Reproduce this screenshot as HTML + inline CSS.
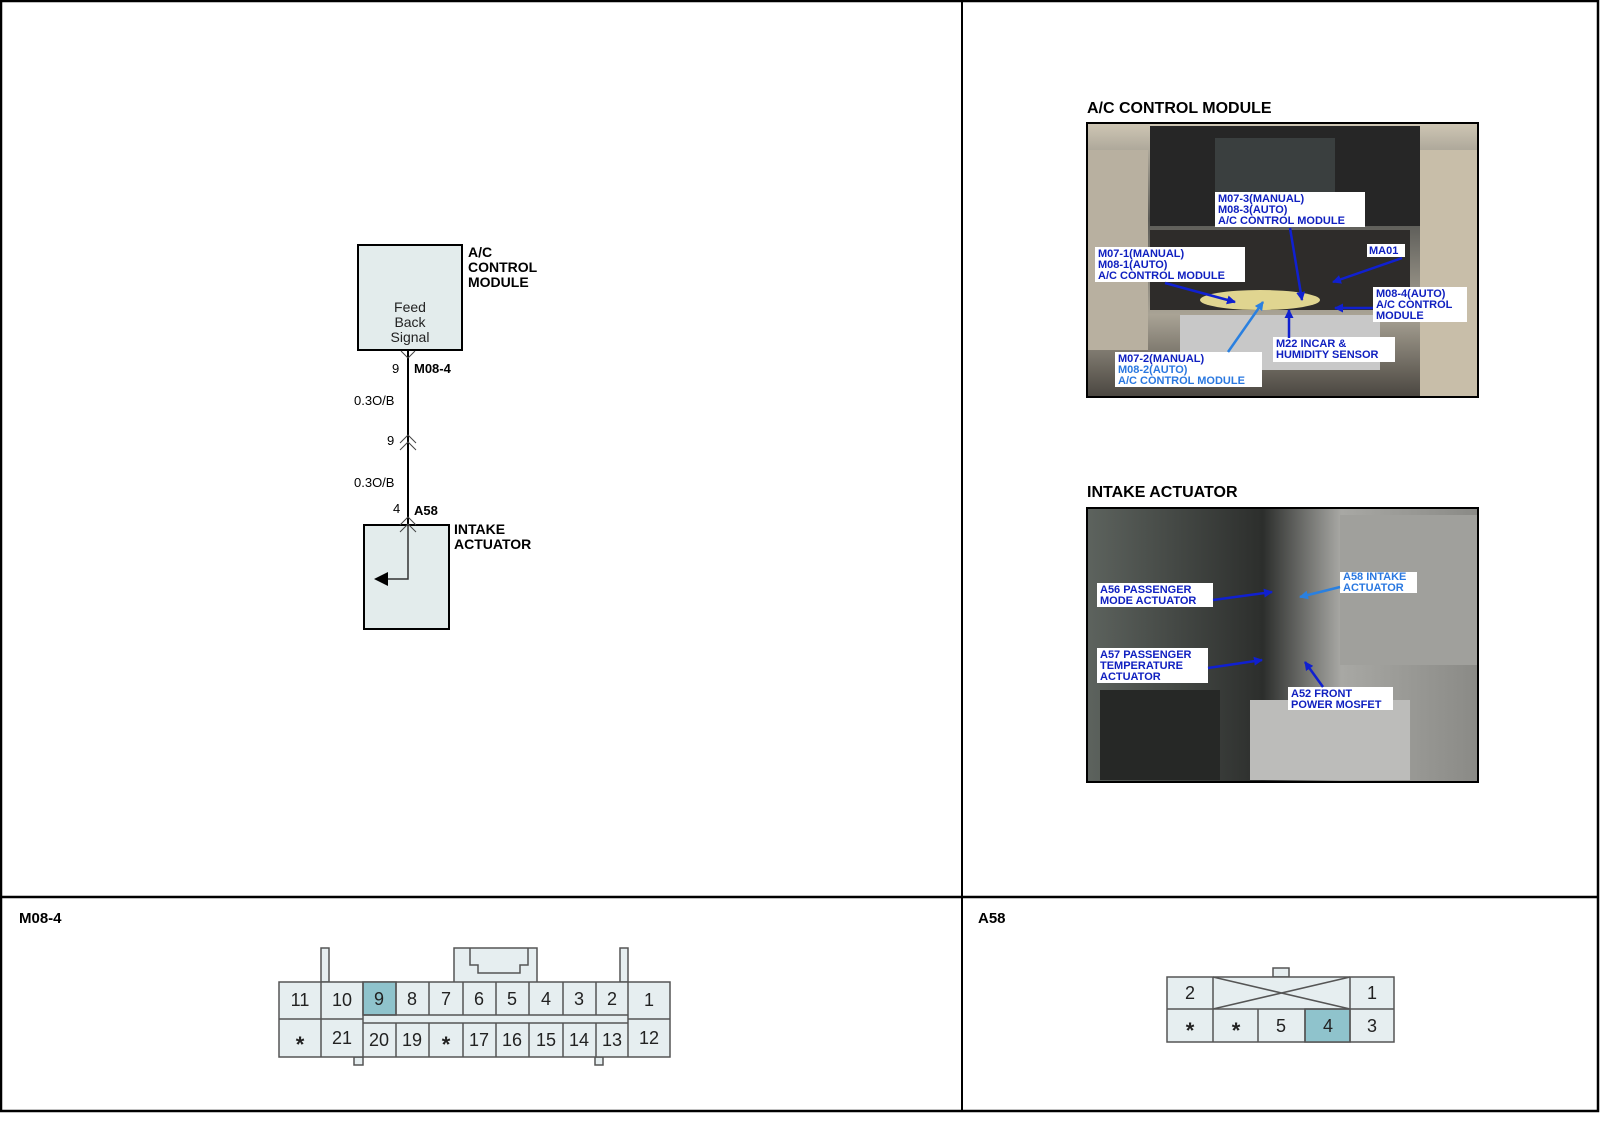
<!DOCTYPE html>
<html><head><meta charset="utf-8"><style>
html,body{margin:0;padding:0;background:#fff;}
svg{display:block;font-family:"Liberation Sans",Arial,sans-serif;}
.b{font-weight:bold;}
</style></head><body>
<svg width="1600" height="1143" viewBox="0 0 1600 1143" xmlns="http://www.w3.org/2000/svg">
<defs>
<marker id="ah" markerWidth="9" markerHeight="9" refX="8" refY="4.5" orient="auto" markerUnits="userSpaceOnUse"><path d="M0,0 L9,4.5 L0,9 z" fill="#1020d0"/></marker>
<marker id="ah2" markerWidth="9" markerHeight="9" refX="8" refY="4.5" orient="auto" markerUnits="userSpaceOnUse"><path d="M0,0 L9,4.5 L0,9 z" fill="#2a80e0"/></marker>
<linearGradient id="g1" x1="0" y1="0" x2="0" y2="1"><stop offset="0" stop-color="#cfc7b5"/><stop offset="0.35" stop-color="#5a5a56"/><stop offset="0.7" stop-color="#a9a395"/><stop offset="1" stop-color="#4a4640"/></linearGradient>
<linearGradient id="g2" x1="0" y1="0" x2="1" y2="0"><stop offset="0" stop-color="#5d635e"/><stop offset="0.45" stop-color="#2c2e2c"/><stop offset="0.65" stop-color="#a8a8a4"/><stop offset="1" stop-color="#8a8a86"/></linearGradient>
</defs>
<rect x="1" y="1" width="1597" height="1110" fill="none" stroke="#000" stroke-width="2.5"/>
<line x1="962" y1="1" x2="962" y2="1111" stroke="#000" stroke-width="2"/>
<line x1="1" y1="897" x2="1598" y2="897" stroke="#000" stroke-width="2.5"/>

<rect x="358" y="245" width="104" height="105" fill="#e3ecec" stroke="#000" stroke-width="2"/>
<g class="b" font-size="14"><text x="468" y="257">A/C</text><text x="468" y="272">CONTROL</text><text x="468" y="287">MODULE</text></g>
<g font-size="14" text-anchor="middle" fill="#222"><text x="410" y="312">Feed</text><text x="410" y="327">Back</text><text x="410" y="342">Signal</text></g>
<line x1="408" y1="350" x2="408" y2="525" stroke="#000" stroke-width="2"/>
<path d="M401,351 L408,358 L415,351" fill="none" stroke="#444" stroke-width="1"/>
<text x="392" y="373" font-size="13">9</text><text x="414" y="373" font-size="13" class="b">M08-4</text>
<text x="354" y="405" font-size="13">0.3O/B</text>
<path d="M400,443 L408,435 L416,443 M400,450 L408,442 L416,450" fill="none" stroke="#444" stroke-width="1"/>
<text x="387" y="445" font-size="13">9</text>
<text x="354" y="487" font-size="13">0.3O/B</text>
<text x="393" y="513" font-size="13">4</text><text x="414" y="515" font-size="13" class="b">A58</text>
<rect x="364" y="525" width="85" height="104" fill="#e3ecec" stroke="#000" stroke-width="2"/>
<path d="M400,525 L408,517 L416,525 M400,532 L408,524 L416,532" fill="none" stroke="#444" stroke-width="1"/>
<path d="M408,525 L408,579 L386,579" fill="none" stroke="#333" stroke-width="1.5"/>
<path d="M374,579 L388,572 L388,586 z" fill="#000"/>
<g class="b" font-size="14"><text x="454" y="534">INTAKE</text><text x="454" y="549">ACTUATOR</text></g>

<text x="1087" y="113" font-size="16" class="b">A/C CONTROL MODULE</text>
<rect x="1087" y="123" width="391" height="274" fill="url(#g1)" stroke="#000" stroke-width="2"/>
<rect x="1150" y="126" width="270" height="100" fill="#262626"/>
<rect x="1215" y="138" width="120" height="60" fill="#3a3f3f"/>
<rect x="1150" y="230" width="260" height="80" fill="#2e2c2a"/>
<rect x="1180" y="315" width="200" height="55" fill="#c8c8c8"/>
<rect x="1088" y="150" width="60" height="200" fill="#b8b0a0"/>
<rect x="1420" y="150" width="57" height="246" fill="#c8bea9"/>
<ellipse cx="1260" cy="300" rx="60" ry="10" fill="#e0d590"/>
<g font-size="11" class="b" fill="#1020c0">
<rect x="1215" y="192" width="150" height="35" fill="#fff"/>
<text x="1218" y="202">M07-3(MANUAL)</text><text x="1218" y="213">M08-3(AUTO)</text><text x="1218" y="224">A/C CONTROL MODULE</text>
<rect x="1095" y="247" width="150" height="35" fill="#fff"/>
<text x="1098" y="257">M07-1(MANUAL)</text><text x="1098" y="268">M08-1(AUTO)</text><text x="1098" y="279">A/C CONTROL MODULE</text>
<rect x="1367" y="244" width="38" height="13" fill="#fff"/><text x="1369" y="254">MA01</text>
<rect x="1373" y="287" width="94" height="35" fill="#fff"/>
<text x="1376" y="297">M08-4(AUTO)</text><text x="1376" y="308">A/C CONTROL</text><text x="1376" y="319">MODULE</text>
<rect x="1273" y="337" width="122" height="25" fill="#fff"/>
<text x="1276" y="347">M22 INCAR &amp;</text><text x="1276" y="358">HUMIDITY SENSOR</text>
<rect x="1115" y="352" width="147" height="35" fill="#fff"/>
<text x="1118" y="362">M07-2(MANUAL)</text><text x="1118" y="373" fill="#2a78e0">M08-2(AUTO)</text><text x="1118" y="384" fill="#2a78e0">A/C CONTROL MODULE</text>
</g>
<g stroke="#1020d0" stroke-width="2.5" fill="none">
<line x1="1290" y1="228" x2="1302" y2="300" marker-end="url(#ah)"/>
<line x1="1165" y1="283" x2="1235" y2="302" marker-end="url(#ah)"/>
<line x1="1402" y1="258" x2="1333" y2="282" marker-end="url(#ah)"/>
<line x1="1373" y1="308" x2="1335" y2="308" marker-end="url(#ah)"/>
<line x1="1289" y1="338" x2="1289" y2="310" marker-end="url(#ah)"/>
<line x1="1228" y1="352" x2="1263" y2="302" stroke="#2a80e0" marker-end="url(#ah2)"/>
</g>

<text x="1087" y="497" font-size="16" class="b">INTAKE ACTUATOR</text>
<rect x="1087" y="508" width="391" height="274" fill="url(#g2)" stroke="#000" stroke-width="2"/>
<rect x="1340" y="515" width="137" height="150" fill="#a0a09c"/>
<rect x="1250" y="700" width="160" height="80" fill="#bcbcba"/>
<rect x="1100" y="690" width="120" height="90" fill="#262826"/>
<g font-size="11" class="b" fill="#1020c0">
<rect x="1097" y="583" width="116" height="24" fill="#fff"/>
<text x="1100" y="593">A56 PASSENGER</text><text x="1100" y="604">MODE ACTUATOR</text>
<rect x="1340" y="572" width="77" height="21" fill="#fff"/>
<text x="1343" y="580" fill="#2a78e0">A58 INTAKE</text><text x="1343" y="591" fill="#2a78e0">ACTUATOR</text>
<rect x="1097" y="648" width="111" height="35" fill="#fff"/>
<text x="1100" y="658">A57 PASSENGER</text><text x="1100" y="669">TEMPERATURE</text><text x="1100" y="680">ACTUATOR</text>
<rect x="1288" y="687" width="105" height="23" fill="#fff"/>
<text x="1291" y="697">A52 FRONT</text><text x="1291" y="708">POWER MOSFET</text>
</g>
<g stroke="#1020d0" stroke-width="2.5" fill="none">
<line x1="1213" y1="600" x2="1272" y2="592" marker-end="url(#ah)"/>
<line x1="1340" y1="587" x2="1300" y2="597" stroke="#2a80e0" marker-end="url(#ah2)"/>
<line x1="1208" y1="668" x2="1262" y2="660" marker-end="url(#ah)"/>
<line x1="1323" y1="687" x2="1305" y2="662" marker-end="url(#ah)"/>
</g>

<text x="19" y="923" font-size="15" class="b">M08-4</text>
<text x="978" y="923" font-size="15" class="b">A58</text>

<g stroke="#555" stroke-width="1.5" fill="#e6eef0">
<rect x="321" y="948" width="8" height="34"/>
<rect x="620" y="948" width="8" height="34"/>
<path d="M454,982 L454,948 L537,948 L537,982"/>
<path d="M470,948 L470,965 L478,965 L478,973 L520,973 L520,965 L528,965 L528,948" fill="none"/>
<rect x="354" y="1057" width="9" height="8"/>
<rect x="595" y="1057" width="8" height="8"/>
<rect x="279" y="982" width="391" height="75"/>
<rect x="363" y="982" width="33" height="33" fill="#8fc3cc"/>
</g>
<g stroke="#555" stroke-width="1.5">
<line x1="279" y1="1019" x2="363" y2="1019"/><line x1="628" y1="1019" x2="670" y2="1019"/>
<line x1="363" y1="1015" x2="628" y2="1015"/><line x1="363" y1="1023" x2="628" y2="1023"/>
<line x1="321" y1="982" x2="321" y2="1057"/><line x1="363" y1="982" x2="363" y2="1057"/>
<line x1="396" y1="982" x2="396" y2="1015"/><line x1="396" y1="1023" x2="396" y2="1057"/>
<line x1="429" y1="982" x2="429" y2="1015"/><line x1="429" y1="1023" x2="429" y2="1057"/>
<line x1="463" y1="982" x2="463" y2="1015"/><line x1="463" y1="1023" x2="463" y2="1057"/>
<line x1="496" y1="982" x2="496" y2="1015"/><line x1="496" y1="1023" x2="496" y2="1057"/>
<line x1="529" y1="982" x2="529" y2="1015"/><line x1="529" y1="1023" x2="529" y2="1057"/>
<line x1="563" y1="982" x2="563" y2="1015"/><line x1="563" y1="1023" x2="563" y2="1057"/>
<line x1="596" y1="982" x2="596" y2="1015"/><line x1="596" y1="1023" x2="596" y2="1057"/>
<line x1="628" y1="982" x2="628" y2="1057"/>
</g>
<g font-size="18" text-anchor="middle" fill="#222">
<text x="300" y="1006">11</text><text x="342" y="1006">10</text><text x="379" y="1005">9</text><text x="412" y="1005">8</text><text x="446" y="1005">7</text><text x="479" y="1005">6</text><text x="512" y="1005">5</text><text x="546" y="1005">4</text><text x="579" y="1005">3</text><text x="612" y="1005">2</text><text x="649" y="1006">1</text>
<text x="300" y="1052" font-size="22" class="b">*</text><text x="342" y="1044">21</text><text x="379" y="1046">20</text><text x="412" y="1046">19</text><text x="446" y="1052" font-size="22" class="b">*</text><text x="479" y="1046">17</text><text x="512" y="1046">16</text><text x="546" y="1046">15</text><text x="579" y="1046">14</text><text x="612" y="1046">13</text><text x="649" y="1044">12</text>
</g>

<g stroke="#555" stroke-width="1.5" fill="#e6eef0">
<rect x="1273" y="968" width="16" height="9"/>
<rect x="1167" y="977" width="227" height="65"/>
<rect x="1305" y="1009" width="45" height="33" fill="#8fc3cc"/>
</g>
<g stroke="#555" stroke-width="1.5">
<line x1="1167" y1="1009" x2="1394" y2="1009"/>
<line x1="1213" y1="977" x2="1213" y2="1042"/><line x1="1350" y1="977" x2="1350" y2="1042"/>
<line x1="1258" y1="1009" x2="1258" y2="1042"/><line x1="1305" y1="1009" x2="1305" y2="1042"/>
<line x1="1213" y1="977" x2="1350" y2="1009"/><line x1="1213" y1="1009" x2="1350" y2="977"/>
</g>
<g font-size="18" text-anchor="middle" fill="#222">
<text x="1190" y="999">2</text><text x="1372" y="999">1</text>
<text x="1190" y="1038" font-size="22" class="b">*</text><text x="1236" y="1038" font-size="22" class="b">*</text><text x="1281" y="1032">5</text><text x="1328" y="1032">4</text><text x="1372" y="1032">3</text>
</g>
</svg>
</body></html>
